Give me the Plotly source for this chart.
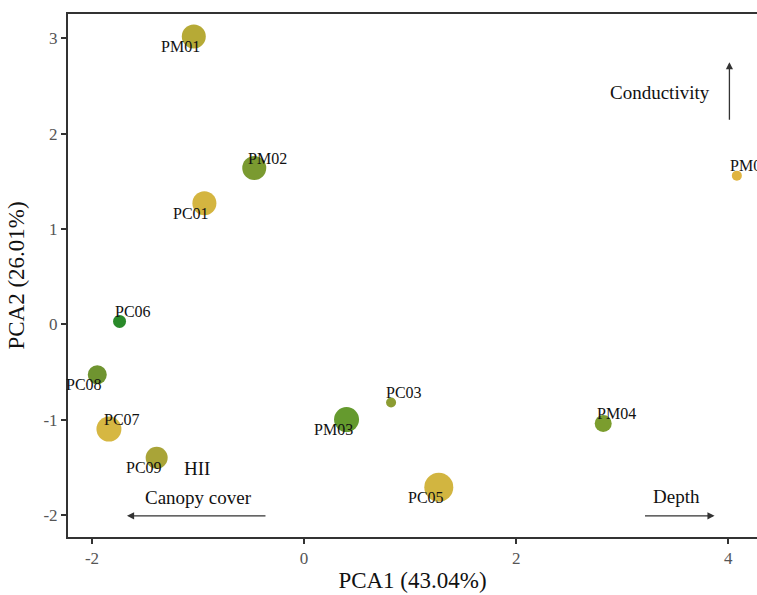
import plotly.graph_objects as go

# ---- data ----
sites = ["PM01", "PM02", "PC01", "PM05", "PC06", "PC08", "PC07", "PC09",
         "PM03", "PC03", "PM04", "PC05"]
pca1 = [-1.04, -0.47, -0.94, 4.08, -1.74, -1.95, -1.84, -1.39,
        0.40, 0.82, 2.82, 1.27]
pca2 = [3.02, 1.64, 1.27, 1.56, 0.03, -0.53, -1.10, -1.40,
        -1.00, -0.82, -1.04, -1.71]
# label placement: +1 = above-right, -1 = below-left
label_side = [-1, 1, -1, 1, 1, -1, 1, -1, -1, 1, 1, -1]

x_tickvals = [-2, 0, 2, 4]
x_ticktext = ["-2", "0", "2", "4"]
y_tickvals = [-2, -1, 0, 1, 2, 3]
y_ticktext = ["-2", "-1", "0", "1", "2", "3"]

# styling per point
marker_diam = [24, 24, 24, 10, 13, 19, 25, 22, 25, 10, 17, 29]
point_colors = ["#b6aa36", "#7a9a30", "#d4b540", "#e0b440", "#2a8a2a", "#6f9430",
                "#d6b742", "#a9a438", "#659a2e", "#8c9c32", "#7b9d2e", "#d2b540"]

vectors = [
    # label, tail x, tail y, head x, head y, text x, text y
    ("Conductivity", 4.01, 2.13, 4.01, 2.75, 3.36, 2.43),
    ("Canopy cover", -0.35, -2.01, -1.67, -2.01, -1.00, -1.82),
    ("Depth", 3.20, -2.01, 3.87, -2.01, 3.51, -1.81),
]
extra_labels = [("HII", -1.01, -1.51)]

x_title = "PCA1 (43.04%)"
y_title = "PCA2 (26.01%)"

serif = "Liberation Serif, Times New Roman, serif"

fig = go.Figure()
fig.add_trace(go.Scatter(
    x=pca1, y=pca2, mode="markers",
    marker=dict(size=marker_diam, color=point_colors, opacity=1, line=dict(width=0)),
    hoverinfo="text", text=sites, showlegend=False, cliponaxis=False,
))

annotations = []
for s, x, y, side in zip(sites, pca1, pca2, label_side):
    annotations.append(dict(
        x=x, y=y, xref="x", yref="y", text=s, showarrow=False,
        xshift=13 * side, yshift=10 * side,
        font=dict(family=serif, size=16, color="#111111"),
    ))

for name, tx, ty, hx, hy, lx, ly in vectors:
    annotations.append(dict(
        x=hx, y=hy, ax=tx, ay=ty, xref="x", yref="y", axref="x", ayref="y",
        text="", showarrow=True, arrowhead=2, arrowsize=1.1, arrowwidth=1.3,
        arrowcolor="#333333", standoff=0, startstandoff=0,
    ))
    annotations.append(dict(
        x=lx, y=ly, xref="x", yref="y", text=name, showarrow=False,
        font=dict(family=serif, size=19, color="#111111"),
    ))
for name, lx, ly in extra_labels:
    annotations.append(dict(
        x=lx, y=ly, xref="x", yref="y", text=name, showarrow=False,
        font=dict(family=serif, size=19, color="#111111"),
    ))

axis_common = dict(
    showgrid=False, zeroline=False, showline=True, linecolor="#333333", linewidth=2,
    ticks="outside", ticklen=5, tickwidth=1.5, tickcolor="#333333",
    tickfont=dict(family=serif, size=17, color="#555555"),
    title_font=dict(family=serif, size=23, color="#111111"),
    automargin=False,
)

fig.update_layout(
    width=757, height=595,
    margin=dict(l=68, r=0, t=14, b=58, pad=0),
    paper_bgcolor="white", plot_bgcolor="white",
    annotations=annotations,
    xaxis=dict(range=[-2.226, 4.27], tickvals=x_tickvals, ticktext=x_ticktext,
               mirror=True, title=dict(text=x_title, standoff=4), **axis_common),
    yaxis=dict(range=[-2.232, 3.256], tickvals=y_tickvals, ticktext=y_ticktext,
               mirror=False, title=dict(text=y_title, standoff=12), **axis_common),
)

fig.write_html("out.html", config={"displayModeBar": False},
               post_script="document.body.style.margin='0px';document.body.style.overflow='hidden';")
